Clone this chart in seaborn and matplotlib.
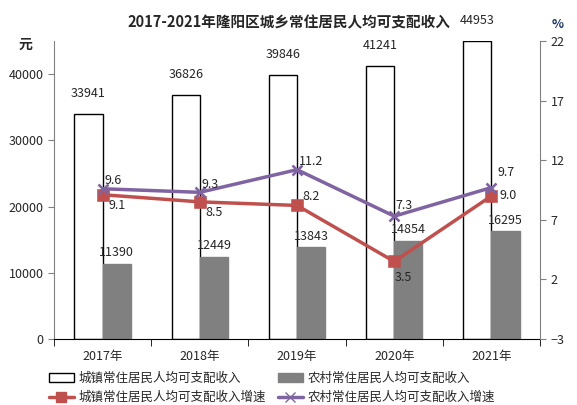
import seaborn as sns
import pandas as pd
import numpy as np
import matplotlib.pyplot as plt
from matplotlib.patches import Patch
from matplotlib.lines import Line2D
from matplotlib.ticker import FixedLocator

years = ["2017年", "2018年", "2019年", "2020年", "2021年"]
urban_income = [33941, 36826, 39846, 41241, 44953]
rural_income = [11390, 12449, 13843, 14854, 16295]
urban_growth = [9.1, 8.5, 8.2, 3.5, 9.0]
rural_growth = [9.6, 9.3, 11.2, 7.3, 9.7]
left_ticks = [0, 10000, 20000, 30000, 40000]
right_ticks = [-3, 2, 7, 12, 17, 22]

urban_name = "城镇常住居民人均可支配收入"
rural_name = "农村常住居民人均可支配收入"

sns.set_style("white")
plt.rcParams['font.family'] = ['Noto Sans CJK SC', 'DejaVu Sans']

df = pd.DataFrame({
    "year": years * 2,
    "value": urban_income + rural_income,
    "type": [urban_name] * 5 + [rural_name] * 5,
})

fig = plt.figure(figsize=(5.77, 4.05), dpi=100)
ax = fig.add_axes([0.0936, 0.163, 0.8424, 0.736])

sns.barplot(data=df, x="year", y="value", hue="type", ax=ax, width=0.58, gap=0,
            palette={urban_name: "white", rural_name: "#808080"}, legend=False)
for bar_cont, ec in zip(ax.containers, ["black", "#808080"]):
    for p in bar_cont:
        p.set_edgecolor(ec)
        p.set_linewidth(1.0)

# bar labels
for p, v in zip(ax.containers[0], urban_income):
    ax.annotate(str(v), (p.get_x() + p.get_width() / 2, v), xytext=(0, 10),
                textcoords="offset points", ha="center", va="bottom", fontsize=9)
for p, v in zip(ax.containers[1], rural_income):
    ax.annotate(str(v), (p.get_x() + p.get_width() / 2, v), xytext=(0, 3),
                textcoords="offset points", ha="center", va="bottom", fontsize=9)

ax.set_ylim(0, 45000)
ax.set_xlim(-0.5, 4.5)
ax.yaxis.set_major_locator(FixedLocator(left_ticks))
ax.set_xlabel("")
ax.set_ylabel("")
ax.tick_params(axis="y", which="major", length=4, color="#808080", labelsize=9, direction="out", left=True)
ax.tick_params(axis="x", which="major", length=0, labelsize=9, pad=8)
ax.xaxis.set_minor_locator(FixedLocator(np.arange(-0.5, 5, 1)))
ax.tick_params(axis="x", which="minor", length=5, color="black", direction="out", bottom=True)
ax.spines["top"].set_visible(False)
ax.spines["left"].set_color("#808080")
ax.spines["right"].set_visible(False)
ax.spines["bottom"].set_color("black")

ax2 = ax.twinx()
sns.pointplot(x=years, y=urban_growth, ax=ax2, color="#C0504D", markers="s",
              markersize=7, linewidth=2.5)
sns.pointplot(x=years, y=rural_growth, ax=ax2, color="#8064A2", markers="x",
              markersize=7, linewidth=2.5)
ax2.set_ylim(-3, 22)
ax2.set_xlim(-0.5, 4.5)
ax2.yaxis.set_major_locator(FixedLocator(right_ticks))
ax2.tick_params(axis="y", length=4, color="#808080", labelsize=9, direction="out", right=True)
for s in ["top", "left", "bottom"]:
    ax2.spines[s].set_visible(False)
ax2.spines["right"].set_color("#808080")

urban_offsets = [(4, -3), (4, -3), (4, 2), (0, -7), (6, 0)]
urban_align = [("left", "top"), ("left", "top"), ("left", "bottom"), ("left", "top"), ("left", "center")]
rural_offsets = [(1, 1), (1, 1), (1, 1), (1, 3), (4, 6)]
for i, v in enumerate(urban_growth):
    ha, va = urban_align[i]
    ax2.annotate(f"{v:.1f}", (i, v), xytext=urban_offsets[i], textcoords="offset points",
                 ha=ha, va=va, fontsize=9)
for i, v in enumerate(rural_growth):
    ax2.annotate(f"{v:.1f}", (i, v), xytext=rural_offsets[i], textcoords="offset points",
                 ha="left", va="bottom", fontsize=9)

fig.text(0.5, 0.945, "2017-2021年隆阳区城乡常住居民人均可支配收入", ha="center", va="center",
         fontsize=10.5, fontweight="bold")
fig.text(0.045, 0.89, "元", ha="center", va="center", fontsize=10, fontweight="bold")
fig.text(0.966, 0.94, "%", ha="center", va="center", fontsize=9, fontweight="bold", color="#1F3864")

handles = [
    Patch(facecolor="white", edgecolor="black", label=urban_name),
    Line2D([], [], color="#C0504D", marker="s", lw=2.5, ms=7, label=urban_name + "增速"),
    Patch(facecolor="#808080", edgecolor="#808080", label=rural_name),
    Line2D([], [], color="#8064A2", marker="x", lw=2.5, ms=7, label=rural_name + "增速"),
]
fig.legend(handles=handles, ncol=2, loc="lower left", bbox_to_anchor=(0.065, -0.025),
           frameon=False, fontsize=9, handlelength=2.0, handletextpad=0.4,
           columnspacing=0.9, labelspacing=0.5)

fig.savefig("out.png", dpi=100)
